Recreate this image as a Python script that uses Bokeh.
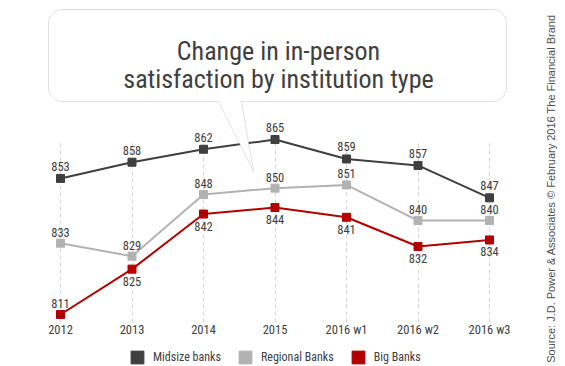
import numpy as np
from bokeh.plotting import figure
from bokeh.models import Range1d, FixedTicker, Label, PolyAnnotation, Legend, LegendItem, Grid
from bokeh.core.properties import value
from bokeh.embed import file_html
from bokeh.resources import INLINE

# ---------------- data ----------------
categories = ["2012", "2013", "2014", "2015", "2016 w1", "2016 w2", "2016 w3"]
midsize = [853, 858, 862, 865, 859, 857, 847]
regional = [833, 829, 848, 850, 851, 840, 840]
big = [811, 825, 842, 844, 841, 832, 834]
series_names = ["Midsize banks", "Regional Banks", "Big Banks"]
title_lines = ["Change in in-person", "satisfaction by institution type"]
source_text = "Source: J.D. Power & Associates \u00a9 February 2016 The Financial Brand"

# ---------------- style ----------------
FONT = "Roboto Condensed"
FONT2 = "Liberation Sans"
TXT = "#404040"
colors = ["#3f3f3f", "#b2b2b2", "#b20000"]
W, H = 565, 366
Y0, Y1 = 794.95, 907.91
GRID_TOP = 864.7

xs = list(range(len(categories)))

p = figure(width=W, height=H, output_backend="svg", toolbar_location=None,
           x_range=Range1d(-0.8392, 7.0629), y_range=Range1d(Y0, Y1),
           x_axis_location=None, y_axis_location=None,
           min_border=0)
p.outline_line_color = None
p.background_fill_color = "white"
p.border_fill_color = "white"
p.grid.visible = False

p.add_layout(Grid(dimension=0, ticker=FixedTicker(ticks=xs), grid_line_color="#d4d4d4",
                  grid_line_dash="4 3", grid_line_width=1, cross_bounds=(808.53, GRID_TOP)))

scat = []
for vals, c in zip([regional, big, midsize], [colors[1], colors[2], colors[0]]):
    p.line(xs, vals, line_color=c, line_width=2)
    scat.append(p.scatter(xs, vals, marker="square", size=8, fill_color=c, line_color=c))
r_reg, r_big, r_mid = scat

def vlabels(vals, offs):
    p.text(x=xs, y=vals, text=[str(v) for v in vals], y_offset=offs,
           text_align="center", text_baseline="middle",
           text_font=value(FONT), text_font_size="12.5px", text_color=TXT)

vlabels(midsize, [-12] * 7)
vlabels(regional, [-11] * 7)
vlabels(big, [-11] + [12] * 6)

# category labels along the bottom of the plot
p.text(x=xs, y=[Y0] * len(xs), text=categories, y_offset=-37,
       text_align="center", text_baseline="middle",
       text_font=value(FONT), text_font_size="12.5px", text_color=TXT)

# ---------------- callout ----------------
def to_screen(xi, yi):
    return [float(x) for x in xi], [float(H - y) for y in yi]

x0, y0, x1, y1, r = 48, 9, 506, 101, 14
nl, nr, tip = 218, 241, (253, 171)
px, py = [], []
def arc(cx, cy, a0, a1):
    for t in np.linspace(np.radians(a0), np.radians(a1), 10):
        px.append(cx + r * np.cos(t)); py.append(cy + r * np.sin(t))
arc(x1 - r, y0 + r, -90, 0)
arc(x1 - r, y1 - r, 0, 90)
px += [nr, tip[0], nl]; py += [y1, tip[1], y1]
arc(x0 + r, y1 - r, 90, 180)
arc(x0 + r, y0 + r, 180, 270)
sxs, sys_ = to_screen(px, py)
p.add_layout(PolyAnnotation(xs=sxs, ys=sys_, xs_units="screen", ys_units="screen",
                            fill_color="white", fill_alpha=1.0,
                            line_color="#9a9a9a", line_width=1))

for txt, base in zip(title_lines, [50, 78]):
    p.add_layout(Label(x=278, y=H - base, x_units="screen", y_units="screen",
                       text=txt, text_align="center", text_baseline="alphabetic",
                       text_font=FONT, text_font_size="26px", text_color=TXT))

p.add_layout(Label(x=550, y=H - 188, x_units="screen", y_units="screen",
                   text=source_text, angle=np.pi / 2, text_align="center",
                   text_baseline="middle", text_font=FONT2,
                   text_font_size="11px", text_color="#505050"))

# ---------------- legend ----------------
legend = Legend(items=[LegendItem(label=series_names[0], renderers=[r_mid]),
                       LegendItem(label=series_names[1], renderers=[r_reg]),
                       LegendItem(label=series_names[2], renderers=[r_big])],
                orientation="horizontal", location=(121, H - 357 - 16),
                glyph_width=32, glyph_height=32, label_standoff=-5, spacing=8,
                padding=0, margin=0, border_line_color=None, background_fill_alpha=0,
                label_text_font=FONT, label_text_font_size="12px",
                label_text_color=TXT, label_text_baseline="middle")
p.add_layout(legend)

open("out.html", "w").write(file_html(p, INLINE))
